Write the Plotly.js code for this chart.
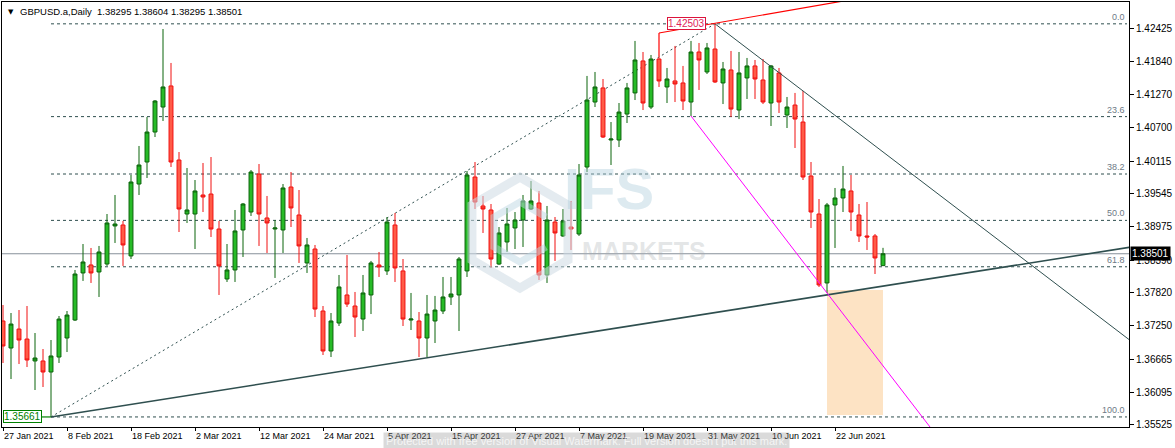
<!DOCTYPE html>
<html>
<head>
<meta charset="utf-8">
<script src="https://cdn.plot.ly/plotly-3.0.1.min.js"></script>
<style>html,body{margin:0;padding:0;background:#fff;}#chart{width:1175px;height:448px;}</style>
</head>
<body>
<div id="chart"></div>
<script>
// ---- Data (GBPUSD.a Daily, 27 Jan 2021 .. 30 Jun 2021) ----
const openP = [1.37331,1.36861,1.37191,1.37017,1.36635,1.36635,1.36443,1.36704,1.37035,1.37348,
1.38167,1.38306,1.38184,1.38323,1.38985,1.39002,1.38463,1.39715,1.40098,1.40620,
1.41055,1.41422,1.40133,1.39193,1.39193,1.39524,1.39541,1.38932,1.38062,1.38219,
1.38915,1.39228,1.39889,1.39124,1.38932,1.38915,1.39663,1.39176,1.38341,1.38584,
1.37505,1.36809,1.37296,1.37784,1.37592,1.37365,1.37784,1.38306,1.38202,1.39002,
1.38202,1.37348,1.37331,1.37035,1.37331,1.37505,1.37749,1.37784,1.38202,1.39837,
1.39333,1.39263,1.38323,1.38706,1.38950,1.39089,1.39280,1.39385,1.38132,1.39054,
1.38811,1.38967,1.38845,1.40011,1.41142,1.41387,1.40481,1.40481,1.40933,1.41300,
1.41857,1.41055,1.41891,1.41404,1.41509,1.41474,1.41142,1.42013,1.41665,1.42065,
1.41474,1.41700,1.41003,1.41561,1.41770,1.41526,1.41125,1.41648,1.40916,1.41090,
1.40794,1.39855,1.39193,1.37993,1.39350,1.39472,1.39594,1.39176,1.38811,1.38811,
1.38295];
const highP = [1.37609,1.37470,1.37522,1.37592,1.37122,1.36843,1.37000,1.37418,1.37505,1.38219,
1.38671,1.38602,1.38637,1.39193,1.39524,1.39072,1.39872,1.40377,1.40881,1.41177,
1.42413,1.41822,1.40272,1.39994,1.39785,1.40081,1.40185,1.39072,1.38671,1.39263,
1.39385,1.39959,1.40063,1.39507,1.39089,1.39715,1.39924,1.39611,1.38776,1.38654,
1.37592,1.37470,1.38132,1.38480,1.37836,1.38132,1.38376,1.38532,1.39141,1.39211,
1.38410,1.37819,1.37487,1.37784,1.37767,1.38097,1.38097,1.38445,1.39942,1.40098,
1.39507,1.39367,1.38967,1.39298,1.39228,1.39524,1.39768,1.39594,1.39333,1.39141,
1.39280,1.39420,1.40063,1.41596,1.41665,1.41543,1.40794,1.41125,1.41474,1.42205,
1.42013,1.41961,1.41944,1.41735,1.42118,1.41770,1.42205,1.42170,1.42170,1.42503,
1.41839,1.42031,1.42013,1.41909,1.41874,1.41891,1.41787,1.41735,1.41230,1.41300,
1.41335,1.40098,1.39454,1.39385,1.39646,1.40029,1.39872,1.39367,1.39402,1.38845,
1.38604];
const lowP = [1.36600,1.36321,1.36582,1.36530,1.36130,1.36182,1.35661,1.36600,1.36791,1.37331,
1.38028,1.37993,1.37749,1.38289,1.38689,1.38289,1.38410,1.39524,1.39820,1.40533,
1.40812,1.40011,1.38880,1.39037,1.38584,1.39228,1.38793,1.37784,1.38010,1.38010,
1.38445,1.39159,1.38637,1.38515,1.38080,1.38515,1.38967,1.38341,1.38167,1.37400,
1.36739,1.36704,1.37244,1.37574,1.37052,1.37157,1.37452,1.38097,1.38132,1.38010,
1.37244,1.37174,1.36704,1.36704,1.36948,1.37452,1.37609,1.37157,1.38097,1.39280,
1.38863,1.38254,1.38306,1.38532,1.38584,1.38619,1.39263,1.38045,1.37993,1.38376,
1.38793,1.38567,1.38811,1.39924,1.41055,1.40516,1.40046,1.40359,1.40777,1.41177,
1.41003,1.41020,1.41404,1.41125,1.41142,1.41003,1.40899,1.41352,1.41630,1.41474,
1.41107,1.40881,1.40846,1.41195,1.41195,1.41107,1.40725,1.40951,1.40690,1.40342,
1.39785,1.38950,1.37923,1.37819,1.38602,1.39228,1.38898,1.38706,1.38567,1.38149,
1.38295];
const closeP = [1.36896,1.37278,1.37000,1.36652,1.36687,1.36443,1.36722,1.37365,1.37435,1.38149,
1.38358,1.38167,1.38532,1.39037,1.39019,1.38654,1.39750,1.40046,1.40620,1.41160,
1.41404,1.40098,1.39280,1.39263,1.39594,1.39489,1.38932,1.38289,1.38219,1.38898,
1.39367,1.39924,1.39193,1.39037,1.38950,1.39646,1.39298,1.38637,1.38654,1.37539,
1.36809,1.37331,1.37923,1.37626,1.37400,1.37819,1.38341,1.38271,1.39054,1.38254,
1.37365,1.37365,1.37035,1.37452,1.37522,1.37749,1.37801,1.38410,1.39872,1.39402,
1.39280,1.38410,1.38863,1.39019,1.39089,1.39420,1.39420,1.38132,1.39089,1.38863,
1.39072,1.38932,1.39872,1.41177,1.41404,1.40533,1.40498,1.40968,1.41387,1.41874,
1.41125,1.41891,1.41509,1.41543,1.41456,1.41160,1.42013,1.41874,1.42083,1.41491,
1.41717,1.41020,1.41648,1.41770,1.41543,1.41142,1.41770,1.41142,1.41055,1.40846,
1.39837,1.39228,1.37958,1.39350,1.39472,1.39628,1.39228,1.38811,1.38793,1.38428,
1.38501];

// date tick labels (every 8th bar)
const dateTickBars = [0,8,16,24,32,40,48,56,64,72,80,88,96,104];
const dateTickLabels = ["27 Jan 2021","8 Feb 2021","18 Feb 2021","2 Mar 2021","12 Mar 2021","24 Mar 2021",
  "5 Apr 2021","15 Apr 2021","27 Apr 2021","7 May 2021","19 May 2021","31 May 2021","10 Jun 2021","22 Jun 2021"];
// price axis ticks
const priceTicks = [1.42425,1.41840,1.41270,1.40700,1.40115,1.39545,1.38975,1.38390,1.37820,1.37250,1.36665,1.36095,1.35525];
const priceTickLabels = ["1.42425","1.41840","1.41270","1.40700","1.40115","1.39545","1.38975","1.38390","1.37820","1.37250","1.36665","1.36095","1.35525"];

// Fibonacci retracement: swing low bar/price to swing high bar/price
const fibLowBar = 6, fibLowPrice = 1.35661;
const fibHighBar = 89, fibHighPrice = 1.42503;
const fibLevels = [0, 23.6, 38.2, 50, 61.8, 100];
const fibLevelLabels = ["0.0","23.6","38.2","50.0","61.8","100.0"];

// drawn trend lines (two anchor bars/prices each)
const supportLine = {bars:[6,103], prices:[1.35661,1.37785]};
const resistLine = {bars:[89,100], prices:[1.42503,1.41335]};
const magentaLine = {bars:[86,103], prices:[1.40899,1.37819]};
const redLine = {bars:[82,89], prices:[1.42344,1.42513]};
const redStub = {bar:82, prices:[1.41944,1.42344]};
const zoneBox = {bars:[103,110], prices:[1.35695,1.37870]};
const lastPrice = 1.38501;
const headerText = "GBPUSD.a,Daily  1.38295 1.38604 1.38295 1.38501";
const watermarkNote = "Protected with free version of Visual Watermark. Full version doesn't put this mark.";

const xMin = -0.125, xMax = 140.75;
const yMin = 1.35486, yMax = 1.42883;

const bars = openP.map((_, i) => i);
function extend(line, toBar){
  const [b0,b1] = line.bars, [p0,p1] = line.prices;
  const s = (p1-p0)/(b1-b0);
  return {x0:b0, y0:p0, x1:toBar, y1:p0 + s*(toBar-b0)};
}

const shapes = [];
// zone box
shapes.push({type:'rect', xref:'x', yref:'y', x0:zoneBox.bars[0], x1:zoneBox.bars[1], y0:zoneBox.prices[0], y1:zoneBox.prices[1],
  fillcolor:'#fde3c4', line:{width:0}, layer:'below'});
// current price line
shapes.push({type:'line', xref:'paper', yref:'y', x0:0, x1:1, y0:lastPrice, y1:lastPrice, line:{color:'#87919a', width:1.2}, layer:'below'});
// fib levels
const fibRange = fibHighPrice - fibLowPrice;
fibLevels.forEach(l => {
  const p = fibHighPrice - fibRange*l/100;
  shapes.push({type:'line', xref:'x', yref:'y', x0:fibLowBar, x1:140.5, y0:p, y1:p, line:{color:'#2f4f4f', width:1, dash:'3px,3px'}, layer:'below'});
});
// fib diagonal
shapes.push({type:'line', xref:'x', yref:'y', x0:fibLowBar, y0:fibLowPrice, x1:fibHighBar, y1:fibHighPrice, line:{color:'#2f4f4f', width:1, dash:'2px,3px'}, layer:'below'});
// watermark logo (semi-transparent hexagon outlines)
shapes.push({type:'path', xref:'paper', yref:'paper', layer:'above',
  path:'M0.4596,0.588 L0.5022,0.522 L0.5022,0.393 L0.4596,0.327 L0.4170,0.393 L0.4170,0.522 Z',
  line:{color:'rgba(205,218,228,0.55)', width:9}, fillcolor:'rgba(255,255,255,0)'});
shapes.push({type:'path', xref:'paper', yref:'paper', layer:'above',
  path:'M0.4827,0.4941 L0.4596,0.5294 L0.4366,0.4941 L0.4366,0.4235 L0.4596,0.3882 L0.4827,0.4235',
  line:{color:'rgba(190,215,228,0.5)', width:7}});
// trend lines
const s1 = extend(supportLine, 141);
shapes.push(Object.assign({type:'line', xref:'x', yref:'y', line:{color:'#2f4f4f', width:1.6}, layer:'above'}, s1));
const s2 = extend(resistLine, 141);
shapes.push(Object.assign({type:'line', xref:'x', yref:'y', line:{color:'#2f4f4f', width:1}, layer:'above'}, s2));
const s3 = extend(magentaLine, 118);
shapes.push(Object.assign({type:'line', xref:'x', yref:'y', line:{color:'#ff00ff', width:1}, layer:'above'}, s3));
const s4 = extend(redLine, 112);
shapes.push(Object.assign({type:'line', xref:'x', yref:'y', line:{color:'#ff0000', width:1.2}, layer:'above'}, s4));
shapes.push({type:'line', xref:'x', yref:'y', x0:redStub.bar, x1:redStub.bar, y0:redStub.prices[0], y1:redStub.prices[1], line:{color:'#ff0000', width:1.2}, layer:'above'});
// green price label connector
shapes.push({type:'line', xref:'x', yref:'y', x0:fibLowBar-1.2, x1:fibLowBar, y0:fibLowPrice, y1:fibLowPrice, line:{color:'#008000', width:1.2}, layer:'above'});

const annotations = [];
// header
annotations.push({xref:'paper', yref:'paper', x:0, y:1, xanchor:'left', yanchor:'top', xshift:4, yshift:-4,
  text:'▼', showarrow:false, font:{family:'DejaVu Sans', size:7, color:'#000'}});
annotations.push({xref:'paper', yref:'paper', x:0, y:1, xanchor:'left', yanchor:'top', xshift:16, yshift:-2,
  text:headerText, showarrow:false, font:{family:'Liberation Sans, Arial', size:9.5, color:'#000'}});
// fib labels
fibLevels.forEach((l, k) => {
  const p = fibHighPrice - fibRange*l/100;
  annotations.push({xref:'x', yref:'y', x:140.5, y:p, xanchor:'right', yanchor:'bottom', yshift:0,
    text:fibLevelLabels[k], showarrow:false, font:{family:'Liberation Sans, Arial', size:9, color:'#6e7a86'}});
});
// price labels
annotations.push({xref:'x', yref:'y', x:fibHighBar-1.1, y:fibHighPrice, xanchor:'right', yanchor:'middle',
  text:'1.42503', showarrow:false, bgcolor:'#ffffff', bordercolor:'#dc143c', borderwidth:1, borderpad:0,
  font:{family:'Liberation Sans, Arial', size:10, color:'#e0245a'}});
annotations.push({xref:'x', yref:'y', x:fibLowBar-1.15, y:fibLowPrice, xanchor:'right', yanchor:'middle',
  text:'1.35661', showarrow:false, bgcolor:'#ffffff', bordercolor:'#008000', borderwidth:1, borderpad:0,
  font:{family:'Liberation Sans, Arial', size:10, color:'#008000'}});
annotations.push({xref:'paper', yref:'y', x:1, y:lastPrice, xanchor:'left', yanchor:'middle', xshift:1,
  text:'1.38501', showarrow:false, bgcolor:'#000000', borderpad:1,
  font:{family:'Liberation Sans, Arial', size:10, color:'#ffffff'}});
// watermark
annotations.push({xref:'paper', yref:'paper', x:0.497, y:0.56, xanchor:'left', yanchor:'middle',
  text:'<b>IFS</b>', showarrow:false, font:{family:'Liberation Sans, Arial', size:58, color:'rgba(175,205,220,0.42)'}});
annotations.push({xref:'paper', yref:'paper', x:0.513, y:0.415, xanchor:'left', yanchor:'middle',
  text:'<b>MARKETS</b>', showarrow:false, font:{family:'Liberation Sans, Arial', size:25, color:'rgba(170,175,180,0.33)'}});
// bottom watermark note
annotations.push({xref:'paper', yref:'paper', x:0.338, y:0, xanchor:'left', yanchor:'top', yshift:-5,
  text:watermarkNote, showarrow:false, bgcolor:'rgba(150,150,150,0.35)', borderpad:2,
  font:{family:'Liberation Sans, Arial', size:11, color:'rgba(255,255,255,0.75)'}});

const trace = {
  type:'candlestick', x:bars, open:openP, high:highP, low:lowP, close:closeP,
  increasing:{line:{color:'#0b640b', width:1}, fillcolor:'#27bb27'},
  decreasing:{line:{color:'#f01010', width:1}, fillcolor:'#ff5b47'},
  whiskerwidth:0, hoverinfo:'skip'
};

const layout = {
  width:1175, height:448,
  margin:{l:2, r:46, t:2, b:21, pad:0},
  paper_bgcolor:'#ffffff', plot_bgcolor:'#ffffff',
  showlegend:false,
  xaxis:{range:[xMin,xMax], showgrid:false, zeroline:false, rangeslider:{visible:false},
    showline:true, mirror:true, linecolor:'#000', linewidth:1,
    tickmode:'array', tickvals:dateTickBars, ticktext:dateTickLabels,
    ticks:'outside', ticklen:3, tickcolor:'#000', ticklabelposition:'outside right',
    tickfont:{family:'Liberation Sans, Arial', size:9, color:'#000'}},
  yaxis:{range:[yMin,yMax], side:'right', showgrid:false, zeroline:false,
    showline:true, mirror:true, linecolor:'#000', linewidth:1,
    tickmode:'array', tickvals:priceTicks, ticktext:priceTickLabels,
    ticks:'outside', ticklen:4, tickcolor:'#000',
    tickfont:{family:'Liberation Sans, Arial', size:10, color:'#000'}},
  shapes:shapes, annotations:annotations
};

Plotly.newPlot('chart', [trace], layout, {staticPlot:true, displayModeBar:false});
</script>
</body>
</html>
